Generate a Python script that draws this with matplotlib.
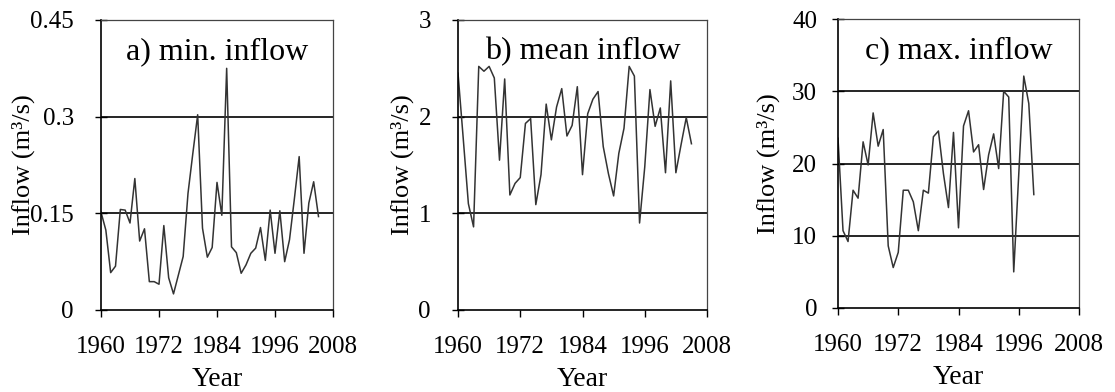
# Annual min / mean / max inflow, 1960 onwards (three panels)

import matplotlib
matplotlib.use('Agg')
import matplotlib.pyplot as plt

plt.rcParams['font.family'] = ['Liberation Serif', 'DejaVu Serif']

years_ab = list(range(1960, 2006))
years_c = list(range(1960, 2000))

min_inflow = [0.152, 0.124, 0.058, 0.068, 0.156, 0.155, 0.135, 0.204, 0.107, 0.126,
              0.044, 0.044, 0.040, 0.131, 0.050, 0.025, 0.054, 0.083, 0.181, 0.243,
              0.303, 0.127, 0.082, 0.097, 0.198, 0.147, 0.375, 0.098, 0.089, 0.057,
              0.070, 0.088, 0.096, 0.128, 0.077, 0.155, 0.088, 0.154, 0.075, 0.109,
              0.172, 0.238, 0.088, 0.166, 0.199, 0.145]

mean_inflow = [2.45, 1.78, 1.10, 0.86, 2.52, 2.47, 2.52, 2.40, 1.55, 2.39,
               1.19, 1.31, 1.37, 1.93, 1.98, 1.09, 1.40, 2.13, 1.76, 2.10,
               2.29, 1.80, 1.91, 2.31, 1.40, 2.03, 2.18, 2.26, 1.69, 1.41,
               1.18, 1.62, 1.88, 2.52, 2.42, 0.90, 1.48, 2.28, 1.90, 2.09,
               1.42, 2.37, 1.42, 1.71, 1.99, 1.72]

max_inflow = [23.5, 10.7, 9.2, 16.3, 15.2, 23.0, 19.8, 27.0, 22.4, 24.7,
              8.6, 5.6, 7.7, 16.3, 16.3, 14.7, 10.7, 16.3, 15.9, 23.7,
              24.5, 18.6, 13.9, 24.3, 11.1, 25.2, 27.3, 21.6, 22.6, 16.4,
              21.2, 24.1, 19.3, 30.0, 29.2, 5.0, 18.5, 32.1, 28.3, 15.7]

panels = [
    (years_ab, min_inflow, 'a) min. inflow', [0, 0.15, 0.3, 0.45], ['0', '0.15', '0.3', '0.45'], -0.336, 15),
    (years_ab, mean_inflow, 'b) mean inflow', [0, 1, 2, 3], ['0', '1', '2', '3'], -0.225, 15),
    (years_c, max_inflow, 'c) max. inflow', [0, 10, 20, 30, 40], ['0', '10', '20', '30', '40'], -0.29, 10.5),
]
xticks = [1960, 1972, 1984, 1996, 2008]

# axes boxes in pixels: left, right, top, bottom
boxes = [(101, 333, 20, 310), (458, 707, 20, 310), (838, 1079, 19, 308)]
W, H = 1115, 392

fig = plt.figure(figsize=(11.15, 3.92), dpi=100)

for (x, y, title, yt, ytl, ylab_x, ypad), (l, r, t, b) in zip(panels, boxes):
    ax = fig.add_axes([l / W, 1 - b / H, (r - l) / W, (b - t) / H])
    for g in yt[1:-1]:
        ax.axhline(g, color='black', lw=1.2, zorder=1)
    ax.plot(x, y, color='#333333', lw=1.1, zorder=2)
    ax.set_xlim(1960, 2008)
    ax.set_ylim(yt[0], yt[-1])
    ax.set_xticks(xticks)
    ax.set_yticks(yt)
    ax.set_yticklabels(ytl)
    ax.tick_params(axis='y', direction='inout', length=9, width=1, labelsize=18, pad=ypad)
    ax.tick_params(axis='x', direction='out', length=5, width=1, labelsize=18, pad=14)
    for s in ['left', 'bottom']:
        ax.spines[s].set_linewidth(1.2)
        ax.spines[s].set_color('black')
    for s in ['top', 'right']:
        ax.spines[s].set_linewidth(0.9)
        ax.spines[s].set_color('#444444')
    ax.set_xlabel('Year', fontsize=20, labelpad=6)
    ax.set_ylabel('Inflow (m³/s)', fontsize=19, va='center')
    ax.yaxis.set_label_coords(ylab_x, 0.5)
    ax.text(0.5, 0.89, title, transform=ax.transAxes, ha='center', va='center', fontsize=23)

plt.savefig('out.png', dpi=100)
